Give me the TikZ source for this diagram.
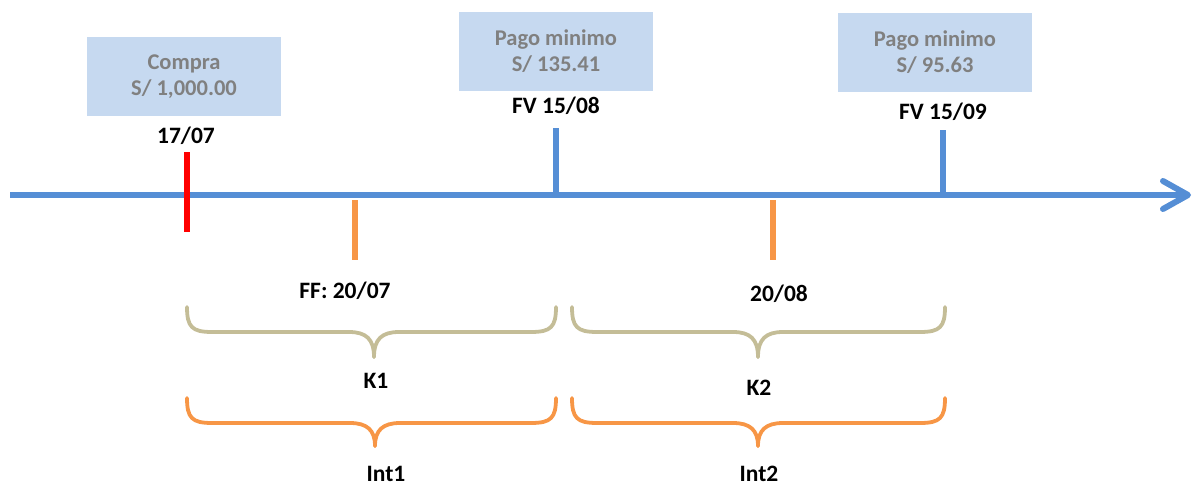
\documentclass[tikz,border=0pt]{standalone}
\usepackage{fontspec}
\setmainfont{Carlito}
\definecolor{axisblue}{HTML}{558ED5}
\definecolor{boxfill}{HTML}{C6D9F0}
\definecolor{boxtext}{HTML}{808080}
\definecolor{tickorange}{HTML}{F79646}
\definecolor{tan}{HTML}{C4BD97}
\begin{document}
\begin{tikzpicture}[x=1pt,y=-1pt,
  infobox/.style={fill=boxfill,text=boxtext,font=\fontsize{22.5}{26}\selectfont\bfseries,align=center,inner sep=0pt,minimum width=194pt,minimum height=79pt},
  datelbl/.style={font=\fontsize{23.5}{27}\selectfont\bfseries,inner sep=0pt},
  axisline/.style={axisblue,line width=6pt},
  tickline/.style={line width=6.5pt},
  bracek/.style={tan,line width=3.8pt,line cap=round},
  bracei/.style={tickorange,line width=3.8pt,line cap=round}]
\useasboundingbox (0,0) rectangle (1195,488);
% boxes
\node[infobox] (b1) at (184,76.5) {Compra\\S/ 1,000.00};
\node[infobox] (b2) at (556,51.5) {Pago minimo\\S/ 135.41};
\node[infobox] (b3) at (935,52) {Pago minimo\\S/ 95.63};
% axis
\coordinate (a0) at (10,195);
\coordinate (a1) at (1188,195);
\draw[axisline] (a0) -- (a1);
\draw[axisline,line cap=round,line join=round] (1163,181) -- (a1) -- (1163,209);
% ticks
\coordinate (r0) at (187,152); \coordinate (r1) at (187,232);
\draw[tickline,red] (r0) -- (r1);
\coordinate (p0) at (556,128); \coordinate (p1) at (556,195);
\draw[tickline,axisblue] (p0) -- (p1);
\coordinate (q0) at (943,130); \coordinate (q1) at (943,195);
\draw[tickline,axisblue] (q0) -- (q1);
\coordinate (o0) at (355,200); \coordinate (o1) at (355,260);
\draw[tickline,tickorange] (o0) -- (o1);
\coordinate (s0) at (773,200); \coordinate (s1) at (773,260);
\draw[tickline,tickorange] (s0) -- (s1);
% labels
\node[datelbl] (l1) at (186,136) {17/07};
\node[datelbl] (l2) at (556,106) {FV 15/08};
\node[datelbl] (l3) at (943,112) {FV 15/09};
\node[datelbl] (l4) at (345,291) {FF: 20/07};
\node[datelbl] (l5) at (779,294) {20/08};
% braces
\newcommand{\mybrace}[6]{% style, x1, x2, xm, ytop, tip offset
  \draw[#1] (#2,#5) .. controls (#2,#5+20) and (#2+5,#5+25) .. (#2+25,#5+25)
    -- (#4-25,#5+25) .. controls (#4-8,#5+25) and (#4,#5+32) .. (#4,#5+#6);
  \draw[#1] (#3,#5) .. controls (#3,#5+20) and (#3-5,#5+25) .. (#3-25,#5+25)
    -- (#4+25,#5+25) .. controls (#4+8,#5+25) and (#4,#5+32) .. (#4,#5+#6);
}
\mybrace{bracek}{187}{556}{374}{307}{50}
\mybrace{bracek}{572}{945}{758}{307}{50}
\mybrace{bracei}{187}{556}{375}{398}{48}
\mybrace{bracei}{572}{945}{758}{398}{48}
\node[datelbl] (k1) at (376,381) {K1};
\node[datelbl] (k2) at (759,388) {K2};
\node[datelbl] (i1) at (386,474) {Int1};
\node[datelbl] (i2) at (759,474) {Int2};
\end{tikzpicture}
\end{document}
